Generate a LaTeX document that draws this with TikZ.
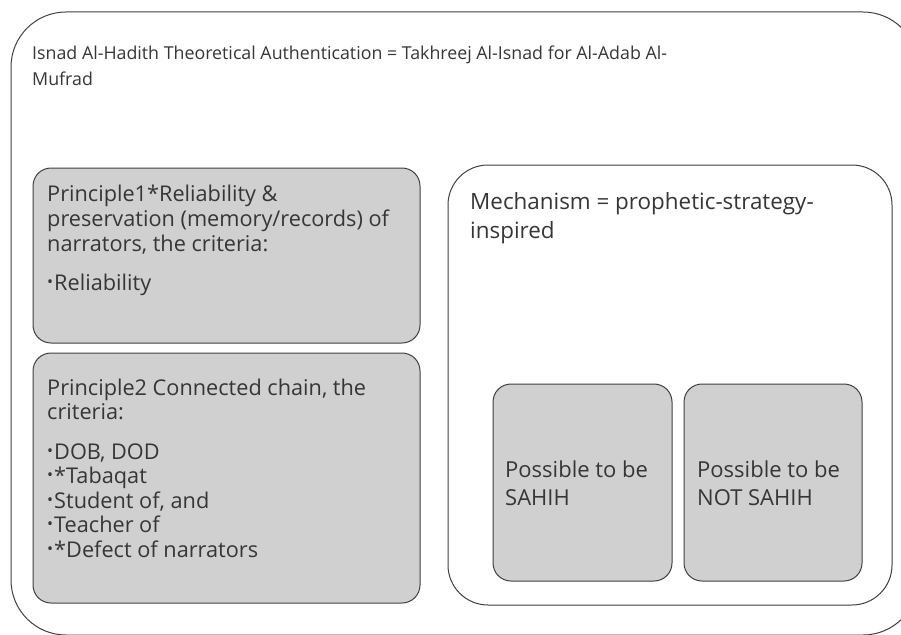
\documentclass[tikz,border=0pt]{standalone}
\usepackage{fontspec}
\setmainfont{Open Sans}
\definecolor{edge}{HTML}{404040}
\definecolor{ink}{HTML}{363636}
\definecolor{boxfill}{HTML}{D0D0D0}
\newcommand\bt{\raisebox{0.25ex}{\fontsize{16}{16}\selectfont •}\hspace{1pt}}
\tikzset{
  frame/.style={draw=edge, line width=1pt, fill=white, inner sep=0pt, outer sep=0pt, anchor=north west},
  graybox/.style={frame, fill=boxfill, rounded corners=18pt},
  txt/.style={anchor=base west, align=left, inner sep=0pt, text=ink},
}
\begin{document}
\begin{tikzpicture}[x=1pt,y=-1pt]
\useasboundingbox (0,0) rectangle (901,634);
\clip (0,0) rectangle (901,634);
\node[frame, rounded corners=55pt, minimum width=907pt, minimum height=623pt] (outer) at (11,12) {};
\node[txt, font=\fontsize{17.8}{26}\selectfont] (title) at (32,85) {Isnad Al-Hadith Theoretical Authentication = Takhreej Al-Isnad for Al-Adab Al-\\Mufrad};
\node[graybox, minimum width=387pt, minimum height=175pt] (p1) at (33,168) {};
\node[txt, font=\fontsize{21.7}{25}\selectfont] (p1t) at (47,290) {Principle1*Reliability \&\\preservation (memory/records) of\\narrators, the criteria:\\[14pt]\bt Reliability};
\node[graybox, minimum width=387pt, minimum height=250pt] (p2) at (33,353) {};
\node[txt, font=\fontsize{21.7}{24.5}\selectfont] (p2t) at (47,557) {Principle2 Connected chain, the\\criteria:\\[15pt]\bt DOB, DOD\\\bt *Tabaqat\\\bt Student of, and\\\bt Teacher of\\\bt *Defect of narrators};
\node[frame, rounded corners=40pt, minimum width=444pt, minimum height=440pt] (mech) at (448,165) {};
\node[txt, font=\fontsize{22.4}{29}\selectfont] (mecht) at (470,238) {Mechanism = prophetic-strategy-\\inspired};
\node[graybox, minimum width=179pt, minimum height=197pt] (sahih) at (493,384) {};
\node[txt, font=\fontsize{22}{28}\selectfont] (sahiht) at (505,505) {Possible to be\\SAHIH};
\node[graybox, minimum width=178pt, minimum height=197pt] (notsahih) at (684,384) {};
\node[txt, font=\fontsize{22}{28}\selectfont] (notsahiht) at (697,505) {Possible to be\\NOT SAHIH};
\end{tikzpicture}
\end{document}
